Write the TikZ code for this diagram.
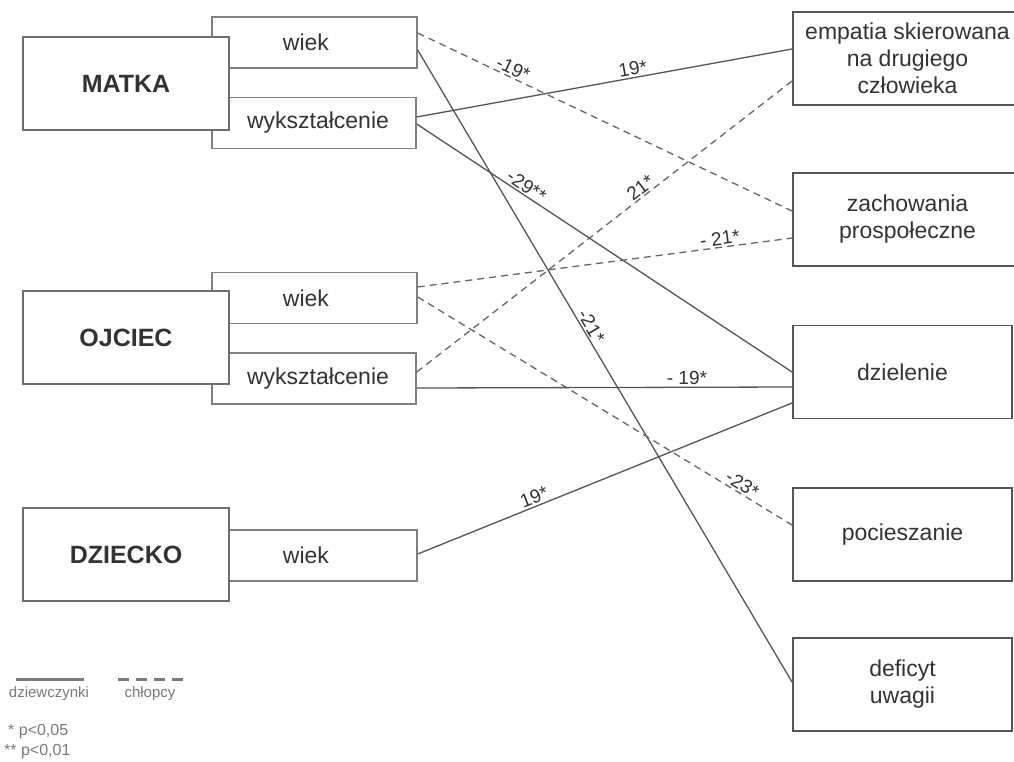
\documentclass[tikz,border=0pt]{standalone}
\usepackage{fontspec}
\setmainfont{Liberation Sans}
\definecolor{boxline}{HTML}{6E6E6E}
\definecolor{subline}{HTML}{808080}
\definecolor{rline}{HTML}{555555}
\definecolor{txt}{HTML}{333333}
\definecolor{conncol}{HTML}{555555}
\definecolor{dconncol}{HTML}{666666}
\definecolor{legcol}{HTML}{7A7A7A}
\begin{document}
\begin{tikzpicture}[x=1pt,y=-1pt,
  bigbox/.style={draw=boxline, line width=1.8pt, fill=white, minimum width=206pt, minimum height=93pt, inner sep=0pt, text=txt, font=\bfseries\fontsize{25}{28}\selectfont},
  subbox/.style={draw=subline, line width=1.4pt, fill=white, minimum height=51pt, inner sep=0pt},
  rbox/.style={draw=rline, line width=1.9pt, fill=white, minimum height=93pt, inner sep=0pt, align=center, text=txt, font=\fontsize{23}{27}\selectfont},
  lbl/.style={text=txt, inner sep=0pt, font=\fontsize{23}{26}\selectfont},
  conn/.style={draw=conncol, line width=1.3pt},
  dconn/.style={draw=dconncol, line width=1.3pt, dash pattern=on 7pt off 5pt},
  lab/.style={text=txt, inner sep=1.5pt, font=\fontsize{19}{21}\selectfont},
  legtext/.style={text=legcol, inner sep=0pt, font=\fontsize{15}{17}\selectfont},
  sigtext/.style={text=legcol, inner sep=0pt, anchor=west, font=\fontsize{16}{18}\selectfont}
]
\useasboundingbox (0,0) rectangle (1014,761);
\clip (0,0) rectangle (1014,761);
\fill[white] (0,0) rectangle (1014,761);

% sub boxes (behind main boxes)
\node[subbox, minimum width=205pt] (mwiek) at (314.5,42.5) {};
\node[subbox, minimum width=204pt] (mwyk) at (314,123) {};
\node[subbox, minimum width=205pt] (owiek) at (314.5,298) {};
\node[subbox, minimum width=204pt] (owyk) at (314,378.5) {};
\node[subbox, minimum width=188pt] (dwiek) at (323,555.5) {};

\node[lbl] (mwiekT) at (306,42.5) {wiek};
\node[lbl] (mwykT) at (318,123) {wykształcenie};
\node[lbl] (owiekT) at (306,298) {wiek};
\node[lbl] (owykT) at (318,378.5) {wykształcenie};
\node[lbl] (dwiekT) at (306,555.5) {wiek};

% main boxes
\node[bigbox] (matka) at (126,83.5) {MATKA};
\node[bigbox] (ojciec) at (126,337.5) {OJCIEC};
\node[bigbox] (dziecko) at (126,554.5) {DZIECKO};

% right boxes
\node[rbox, minimum width=229pt] (emp) at (907.5,58.5) {empatia skierowana\\na drugiego\\człowieka};
\node[rbox, minimum width=229pt] (zach) at (907.5,219.5) {zachowania\\prospołeczne};
\node[rbox, minimum width=219pt] (dziel) at (902.5,372) {dzielenie};
\node[rbox, minimum width=219pt] (pocie) at (902.5,534.5) {pocieszanie};
\node[rbox, minimum width=219pt] (defic) at (902.5,684.5) {deficyt\\uwagii};

% connector end points
\coordinate (a1) at ([yshift=9.5pt]mwiek.east);
\coordinate (b1) at ([yshift=-7.5pt]mwiek.east);
\coordinate (c1) at ([yshift=6pt]mwyk.east);
\coordinate (d1) at ([yshift=-1pt]mwyk.east);
\coordinate (e1) at ([yshift=11pt]owiek.east);
\coordinate (f1) at ([yshift=1pt]owiek.east);
\coordinate (g1) at ([yshift=6.5pt]owyk.east);
\coordinate (h1) at ([yshift=-9.5pt]owyk.east);
\coordinate (i1) at ([yshift=1.5pt]dwiek.east);

\coordinate (c2) at ([yshift=9.5pt]emp.west);
\coordinate (g2) at ([yshift=-22.5pt]emp.west);
\coordinate (a2) at ([yshift=8.5pt]zach.west);
\coordinate (e2) at ([yshift=-18.5pt]zach.west);
\coordinate (d2) at (dziel.west);
\coordinate (h2) at ([yshift=-15pt]dziel.west);
\coordinate (i2) at ([yshift=-31pt]dziel.west);
\coordinate (f2) at ([yshift=9.5pt]pocie.west);
\coordinate (b2) at ([yshift=2.5pt]defic.west);

% connectors
\draw[dconn] (a1) -- node[lab, pos=0.245, sloped, above] {-19*} (a2);
\draw[conn] (b1) -- node[lab, pos=0.444, sloped, above] {-21*} (b2);
\draw[conn] (c1) -- node[lab, pos=0.58, sloped, above] {19*} (c2);
\draw[conn] (d1) -- node[lab, pos=0.28, sloped, above] {-29**} (d2);
\draw[dconn] (e1) -- node[lab, pos=0.81, sloped, above] {- 21*} (e2);
\draw[dconn] (f1) -- node[lab, pos=0.855, sloped, above] {-23*} (f2);
\draw[dconn] (g1) -- node[lab, pos=0.61, sloped, above] {21*} (g2);
\draw[conn] (h1) -- node[lab, pos=0.72, above] {- 19*} (h2);
\draw[conn] (i1) -- node[lab, pos=0.32, sloped, above] {19*} (i2);

% legend
\draw[legcol, line width=3pt] (16,679) -- (84,679);
\draw[legcol, line width=3pt, dash pattern=on 11pt off 7pt] (118,679) -- (184,679);
\node[legtext] (leg1) at (49,694) {dziewczynki};
\node[legtext] (leg2) at (150,694) {chłopcy};
\node[sigtext] (sig1) at (8,732) {* p<0,05};
\node[sigtext] (sig2) at (4,752) {** p<0,01};
\end{tikzpicture}
\end{document}
